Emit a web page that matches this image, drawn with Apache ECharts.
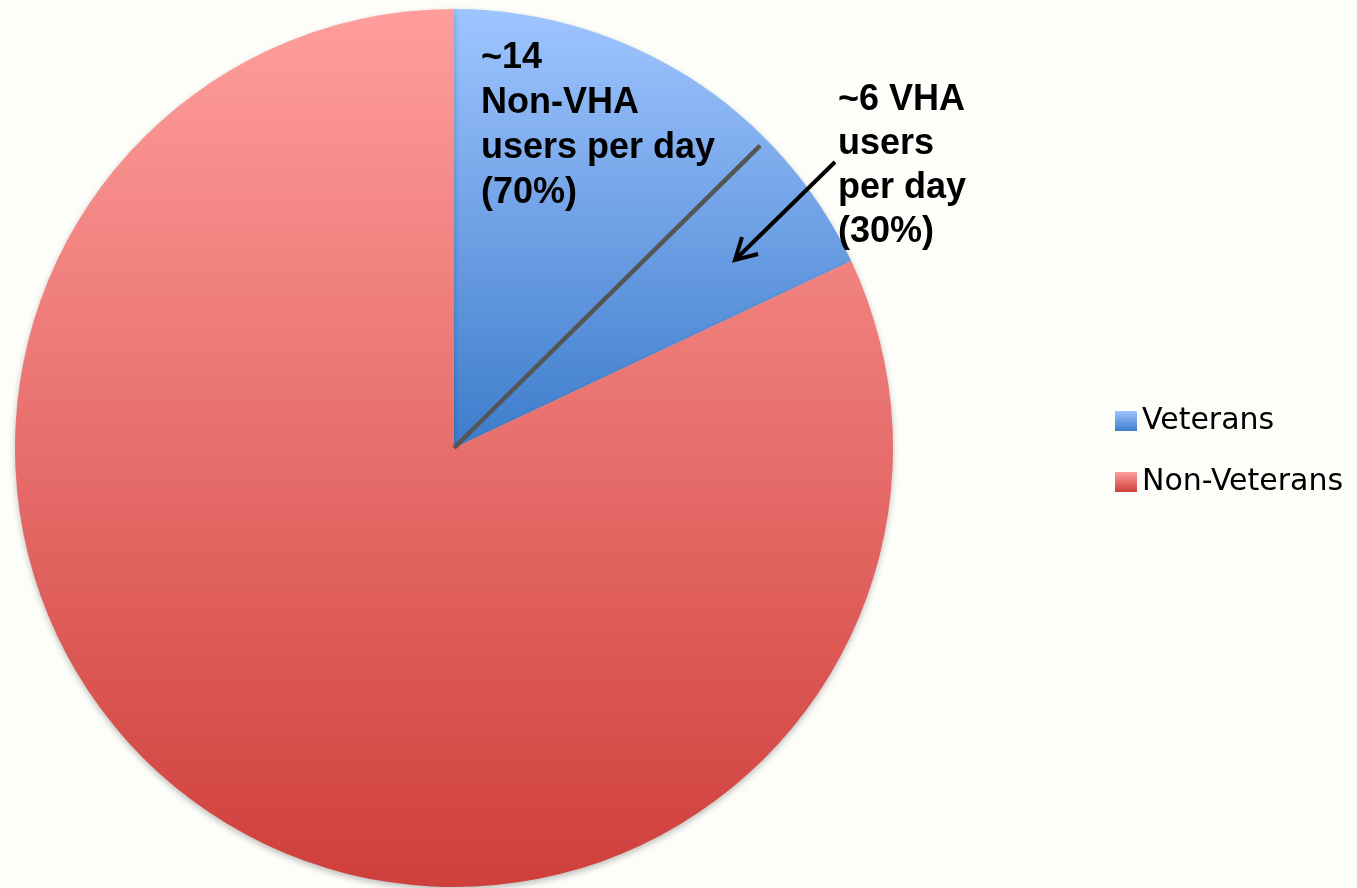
<!DOCTYPE html>
<html>
<head>
<meta charset="utf-8">
<style>
html, body { margin: 0; padding: 0; background: #fdfdfa; }
#chartDiv { width: 1357px; height: 888px; }
</style>
<script src="https://cdn.jsdelivr.net/npm/echarts@6/dist/echarts.min.js"></script>
</head>
<body>
<div id="chartDiv"></div>
<script>
var myChart = echarts.init(document.getElementById('chartDiv'));

var categories = ['Veterans', 'Non-Veterans'];
var shares = [18, 82];
// split of the veterans slice: non-VHA vs VHA users
var vetSplit = [70, 30];
var leftNote = '~14\nNon-VHA\nusers per day\n(70%)';
var rightNote = '~6 VHA\nusers\nper day\n(30%)';

var cx = 454, cy = 448, r = 439;

function grad(top, bottom) {
    return new echarts.graphic.LinearGradient(0, 0, 0, 1, [
        {offset: 0, color: top},
        {offset: 1, color: bottom}
    ]);
}
var colors = [grad('#9fc5ff', '#3d7ccb'), grad('#ff9e9c', '#cf3f3b')];

// divider inside veterans slice, angle from 12 o'clock clockwise
var total = shares[0] + shares[1];
var splitAngle = shares[0] / total * vetSplit[0] / (vetSplit[0] + vetSplit[1]) * 2 * Math.PI;
var lineLen = r * 0.98;

option = {
    backgroundColor: '#fdfdfa',
    animation: false,
    legend: {
        orient: 'vertical',
        left: 1110,
        top: 401,
        icon: 'rect',
        itemWidth: 22,
        itemHeight: 20,
        itemGap: 31,
        textStyle: {fontSize: 30, fontFamily: 'DejaVu Sans', color: '#000'},
        data: categories
    },
    series: [{
        type: 'pie',
        center: [cx, cy],
        radius: r,
        startAngle: 90,
        label: {show: false},
        labelLine: {show: false},
        emphasis: {disabled: true},
        itemStyle: {
            shadowBlur: 6,
            shadowOffsetY: 3,
            shadowColor: 'rgba(0,0,0,0.25)'
        },
        data: categories.map(function (c, i) {
            return {name: c, value: shares[i], itemStyle: {color: colors[i]}};
        })
    }],
    graphic: [
        {
            type: 'line',
            z: 100,
            shape: {
                x1: cx, y1: cy,
                x2: cx + lineLen * Math.sin(splitAngle),
                y2: cy - lineLen * Math.cos(splitAngle)
            },
            style: {stroke: '#555', lineWidth: 4.5}
        },
        {
            type: 'line',
            z: 100,
            shape: {x1: 835, y1: 162, x2: 737, y2: 258},
            style: {stroke: '#000', lineWidth: 4}
        },
        {
            type: 'polyline',
            z: 100,
            shape: {points: [[742, 237], [735, 260], [758, 254]]},
            style: {stroke: '#000', lineWidth: 4, fill: null, lineJoin: 'miter'}
        },
        {
            type: 'text',
            z: 100,
            x: 481, y: 36,
            style: {
                text: leftNote,
                font: 'bold 36px "Liberation Sans", Arial, sans-serif',
                lineHeight: 45,
                fill: '#000',
                verticalAlign: 'top'
            }
        },
        {
            type: 'text',
            z: 100,
            x: 838, y: 78,
            style: {
                text: rightNote,
                font: 'bold 36px "Liberation Sans", Arial, sans-serif',
                lineHeight: 44,
                fill: '#000',
                verticalAlign: 'top'
            }
        }
    ]
};
myChart.setOption(option);
</script>
</body>
</html>
